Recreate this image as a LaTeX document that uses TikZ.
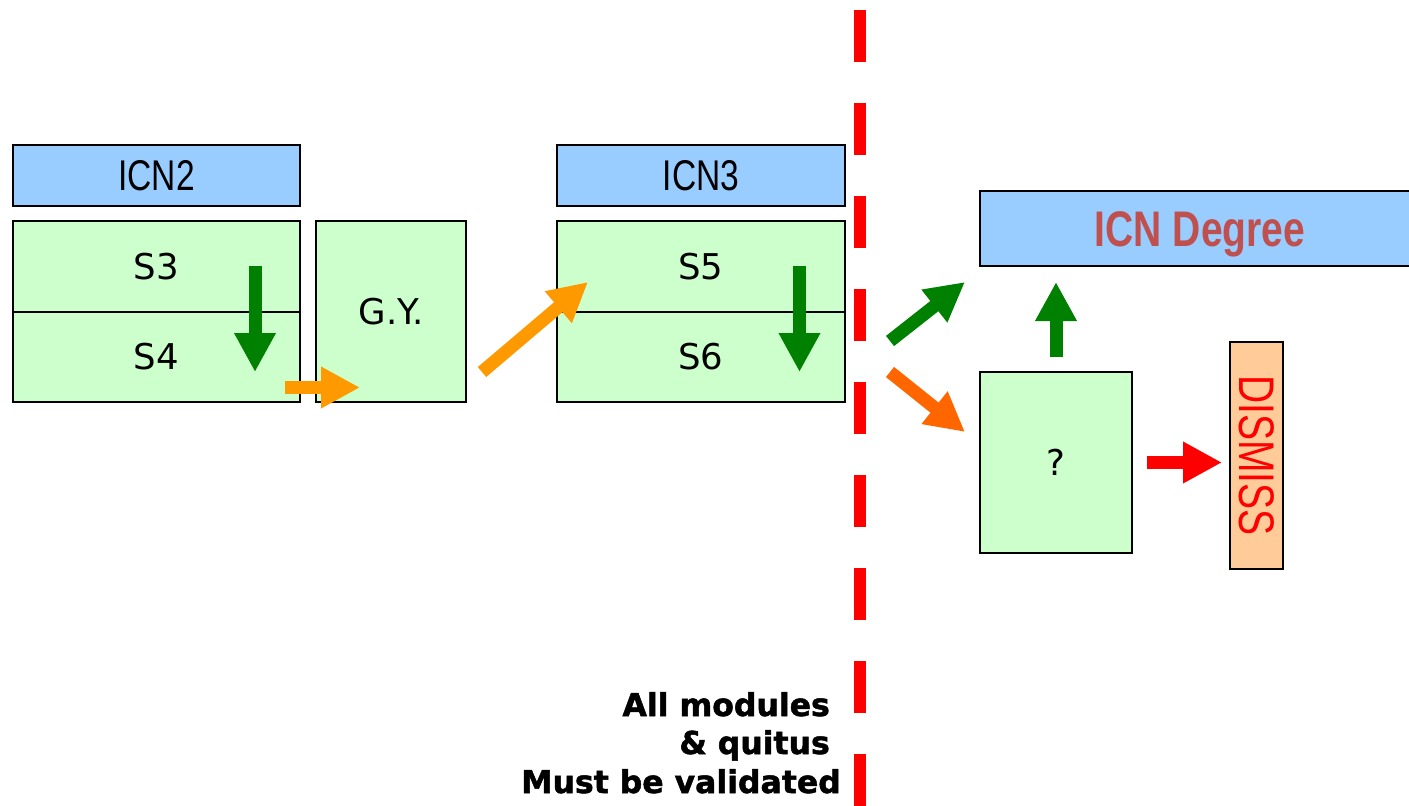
\documentclass[tikz,border=0pt]{standalone}
\usepackage{fontspec}
\setmainfont{DejaVu Sans}
\newfontfamily\narrowfont[FakeStretch=0.78]{Liberation Sans}
\newfontfamily\notefont[BoldFeatures={FakeBold=1.6}]{DejaVu Sans}
\usetikzlibrary{arrows.meta}
\definecolor{boxblue}{HTML}{99CCFF}
\definecolor{boxgreen}{HTML}{CCFFCC}
\definecolor{boxpeach}{HTML}{FFCC99}
\definecolor{arrgreen}{HTML}{008000}
\definecolor{arrorange}{HTML}{FF9900}
\definecolor{arrdarkorange}{HTML}{FF6600}
\definecolor{degreered}{HTML}{C0504D}
\begin{document}
\begin{tikzpicture}[x=1pt,y=-1pt,
  boxbase/.style={draw=black, line width=1.5pt, inner sep=0pt, outer sep=0pt},
  icnbox/.style={boxbase, fill=boxblue, font=\narrowfont\fontsize{43}{50}\selectfont},
  semBox/.style={boxbase, fill=boxgreen, font=\fontsize{35.5}{42}\selectfont},
  fat/.style={line width=13pt, -{Triangle[length=39pt,width=39pt]}},
  bottomtext/.style={inner sep=0pt, font=\notefont\bfseries\fontsize{31.5}{38}\selectfont}
]
\useasboundingbox (0,0) rectangle (1409,806);

% dashed separator
\coordinate (dtop) at (860,10);
\coordinate (dbot) at (860,815);
\draw[red, line width=12pt, dash pattern=on 52pt off 41pt] (dtop) -- (dbot);

% left group
\node[icnbox, minimum width=287pt, minimum height=61pt] (icn2) at (156.5,175.5) {ICN2};
\node[semBox, minimum width=287pt, minimum height=91pt] (s3) at (156.5,266.5) {S3};
\node[semBox, minimum width=287pt, minimum height=90pt] (s4) at (156.5,357) {S4};
\node[semBox, minimum width=150pt, minimum height=181pt] (gy) at (391,311.5) {G.Y.};

% middle group
\node[icnbox, minimum width=288pt, minimum height=61pt] (icn3) at (701,175.5) {ICN3};
\node[semBox, minimum width=288pt, minimum height=91pt] (s5) at (701,266.5) {S5};
\node[semBox, minimum width=288pt, minimum height=90pt] (s6) at (701,357) {S6};

% right group
\node[boxbase, fill=boxblue, minimum width=440pt, minimum height=75pt,
      font=\narrowfont\bfseries\fontsize{50}{56}\selectfont, text=degreered] (deg) at (1200,228.5) {\smash{\raisebox{-17.5pt}{ICN Degree}}};
\node[semBox, minimum width=152pt, minimum height=181pt] (q) at (1056,462.5) {?};
\node[boxbase, fill=boxpeach, rotate=-90, minimum width=227pt, minimum height=53pt,
      font=\narrowfont\fontsize{50}{56}\selectfont, text=red] (dismiss) at (1256.5,455.5) {DISMISS};

% arrow end points
\coordinate (g1a) at (255,266);  \coordinate (g1b) at (255,372);
\coordinate (o1a) at (285,387.5); \coordinate (o1b) at (360,387.5);
\coordinate (o2a) at (482,372);  \coordinate (o2b) at (588,282);
\coordinate (g2a) at (799.5,266); \coordinate (g2b) at (799.5,372);
\coordinate (g3a) at (890,341);  \coordinate (g3b) at (965,282);
\coordinate (o3a) at (890,372);  \coordinate (o3b) at (965,432);
\coordinate (g4a) at (1056,357); \coordinate (g4b) at (1056,282);
\coordinate (r1a) at (1147,462.5); \coordinate (r1b) at (1222,462.5);

\draw[fat, draw=arrgreen, fill=arrgreen] (g1a) -- (g1b);
\draw[fat, draw=arrorange, fill=arrorange] (o1a) -- (o1b);
\draw[fat, draw=arrorange, fill=arrorange] (o2a) -- (o2b);
\draw[fat, draw=arrgreen, fill=arrgreen] (g2a) -- (g2b);
\draw[fat, draw=arrgreen, fill=arrgreen] (g3a) -- (g3b);
\draw[fat, draw=arrdarkorange, fill=arrdarkorange] (o3a) -- (o3b);
\draw[fat, draw=arrgreen, fill=arrgreen] (g4a) -- (g4b);
\draw[fat, draw=red, fill=red] (r1a) -- (r1b);

% bottom note
\node[bottomtext, anchor=base east] (t1) at (830,716) {All modules};
\node[bottomtext, anchor=base east] (t2) at (830,754) {\& quitus};
\node[bottomtext, anchor=base east] (t3) at (841,793) {Must be validated};
\end{tikzpicture}
\end{document}
